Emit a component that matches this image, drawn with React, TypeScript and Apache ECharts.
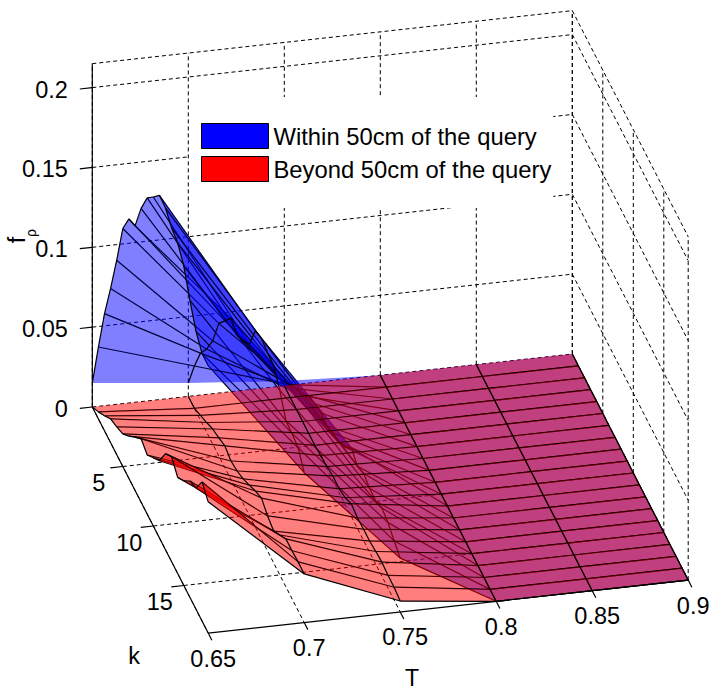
import React, { useEffect, useRef } from "react";
import * as echarts from "echarts";

const tTicks = [0.65, 0.7, 0.75, 0.8, 0.85, 0.9];
const kRows = [0, 1, 2, 3, 4, 5, 6, 7, 8, 9, 10, 11, 12, 13, 14, 15, 16, 17, 18, 19];
const kTicks = [5, 10, 15];
const fTicks = [0, 0.05, 0.1, 0.15, 0.2];
const fTop = 0.215;
const kMax = 19;

const blue065 = [0.015, 0.045, 0.0734, 0.0966, 0.1217, 0.149, 0.1625, 0.1656, 0.184, 0.198, 0.206, 0.2145, 0.214, 0.209, 0.207, 0.2, 0.186, 0.174, 0.1675, 0.1675];
const blue070 = [0.0084, 0.0265, 0.042, 0.052, 0.0646, 0.083, 0.092, 0.101, 0.098, 0.102, 0.107, 0.123, 0.1257, 0.124, 0.1236, 0.1155, 0.104, 0.1035, 0.102, 0.0938];
const blue075 = [0.003, 0.008, 0.013, 0.016, 0.0235, 0.026, 0.0277, 0.027, 0.03, 0.0314, 0.036, 0.043, 0.039, 0.042, 0.04, 0.0395, 0.0427, 0.041, 0.037, 0.0337];
const blue080 = [0, 0, 0, 0, 0, 0, 0, 0, 0, 0, 0, 0, 0, 0, 0, 0, 0, 0, 0, 0];
const blue085 = [0, 0, 0, 0, 0, 0, 0, 0, 0, 0, 0, 0, 0, 0, 0, 0, 0, 0, 0, 0];
const blue090 = [0, 0, 0, 0, 0, 0, 0, 0, 0, 0, 0, 0, 0, 0, 0, 0, 0, 0, 0, 0];

const red065 = [0, 0.0044, 0.0094, 0.0149, 0.0173, 0.0204, 0.0265, 0.0333, 0.0397, 0.037, 0.0427, 0.0483, 0.0602, 0.0657, 0.0602, 0.0656, 0.0729, 0.0759, 0.0872, 0.0822];
const red070 = [0, 0, 0.003, 0.006, 0.0094, 0.0113, 0.0137, 0.0117, 0.0129, 0.0154, 0.019, 0.0227, 0.0257, 0.022, 0.02, 0.025, 0.03, 0.03, 0.0305, 0.0304];
const red075 = [0, 0, 0, 0, 0, 0, 0.001, 0.0015, 0.003, 0.0025, 0.0044, 0.008, 0.0066, 0.007, 0.007, 0.008, 0.0088, 0.008, 0.008, 0.0068];
const red080 = [0, 0, 0, 0, 0, 0, 0, 0, 0, 0, 0, 0, 0, 0, 0, 0, 0, 0, 0, 0];
const red085 = [0, 0, 0, 0, 0, 0, 0, 0, 0, 0, 0, 0, 0, 0, 0, 0, 0, 0, 0, 0];
const red090 = [0, 0, 0, 0, 0, 0, 0, 0, 0, 0, 0, 0, 0, 0, 0, 0, 0, 0, 0, 0];

const blueColumns = [blue065, blue070, blue075, blue080, blue085, blue090];
const redColumns = [red065, red070, red075, red080, red085, red090];

const nameBlue = "Within 50cm of the query";
const nameRed = "Beyond 50cm of the query";
const FONT = '"Liberation Sans", Arial, sans-serif';

// Orthographic view of the (T, k, f) box onto the hidden pixel-scale axes.
function project(T: number, k: number, f: number): [number, number] {
  const t = (T - 0.65) / 0.05;
  return [92.3 + 96 * t + 6.1 * k, 407 - 10.6 * t + 11.9 * k - 1597 * f];
}

const cellData = () => {
  const out: number[][] = [];
  for (let t = 0; t < tTicks.length - 1; t++) {
    for (let k = 0; k < kRows.length - 1; k++) out.push([t, k]);
  }
  return out;
};

const surfaceItem = (cols: number[][], fill: string) => (params: any, api: any) => {
  const t = api.value(0);
  const k = api.value(1);
  const at = (a: number, b: number) => api.coord(project(tTicks[a], kRows[b], cols[a][b]));
  const lineStyle = { stroke: "#000", lineWidth: 1.2, fill: null };
  const edge = (p: number[], q: number[]) => ({
    type: "line",
    shape: { x1: p[0], y1: p[1], x2: q[0], y2: q[1] },
    style: lineStyle,
  });
  const children: any[] = [
    {
      type: "polygon",
      shape: { points: [at(t, k), at(t + 1, k), at(t + 1, k + 1), at(t, k + 1)] },
      style: { fill, stroke: null },
    },
    edge(at(t, k), at(t, k + 1)),
    edge(at(t, k + 1), at(t + 1, k + 1)),
  ];
  if (t === tTicks.length - 2) children.push(edge(at(t + 1, k), at(t + 1, k + 1)));
  return { type: "group", children };
};

const segmentItem = (dash: number[] | null, width: number) => (params: any, api: any) => {
  const a = api.coord(project(api.value(0), api.value(1), api.value(2)));
  const b = api.coord(project(api.value(3), api.value(4), api.value(5)));
  return {
    type: "line",
    shape: { x1: a[0], y1: a[1], x2: b[0], y2: b[1] },
    style: { stroke: "#000", lineWidth: width, lineDash: dash || undefined, fill: null },
  };
};

const T0 = tTicks[0];
const T1 = tTicks[tTicks.length - 1];

const gridSegments: number[][] = [];
fTicks.forEach((f) => {
  gridSegments.push([T0, 0, f, T1, 0, f]);
  gridSegments.push([T1, 0, f, T1, kMax, f]);
});
tTicks.forEach((T) => {
  gridSegments.push([T, 0, 0, T, 0, fTop]);
  gridSegments.push([T, 0, 0, T, kMax, 0]);
});
kTicks.forEach((k) => {
  gridSegments.push([T0, k, 0, T1, k, 0]);
  gridSegments.push([T1, k, 0, T1, k, fTop]);
});
gridSegments.push([T0, 0, fTop, T1, 0, fTop]);
gridSegments.push([T1, 0, fTop, T1, kMax, fTop]);
gridSegments.push([T1, 0, 0, T1, 0, fTop]);
gridSegments.push([T1, kMax, 0, T1, kMax, fTop]);

const axisSegments: number[][] = [
  [T0, 0, 0, T0, 0, fTop],
  [T0, 0, 0, T0, kMax, 0],
  [T0, kMax, 0, T1, kMax, 0],
];
fTicks.forEach((f) => axisSegments.push([T0 - 0.0065, 0, f, T0, 0, f]));
kTicks.forEach((k) => axisSegments.push([T0 - 0.0065, k, 0, T0, k, 0]));
tTicks.forEach((T) => axisSegments.push([T, kMax, 0, T, kMax + 0.6, 0]));

type Label = { text: string; T: number; k: number; f: number; dx: number; dy: number; align: string };
const tickLabels: Label[] = [
  ...fTicks.map((f) => ({ text: String(f), T: T0, k: 0, f, dx: -24.5, dy: 2, align: "right" })),
  ...kTicks.map((k) => ({ text: String(k), T: T0, k, f: 0, dx: -24, dy: 16.5, align: "center" })),
  ...tTicks.map((T) => ({ text: String(T), T, k: kMax, f: 0, dx: 5, dy: 25.5, align: "center" })),
];

const labelItem = (params: any, api: any) => {
  const l = tickLabels[params.dataIndex];
  const p = api.coord(project(l.T, l.k, l.f));
  return {
    type: "text",
    style: {
      text: l.text,
      x: p[0] + l.dx,
      y: p[1] + l.dy,
      textAlign: l.align,
      textVerticalAlign: "middle",
      fontSize: 23.5,
      fontFamily: FONT,
      fill: "#000",
    },
  };
};

const axisNames = [
  { text: "k", x: 134, y: 656, size: 23.5, rot: 0 },
  { text: "T", x: 412, y: 677.5, size: 23, rot: 0 },
  { text: "f", x: 17, y: 240, size: 23.5, rot: Math.PI / 2 },
  { text: "\u03c1", x: 31, y: 233, size: 14, rot: Math.PI / 2 },
];

const nameItem = (params: any, api: any) => {
  const n = axisNames[params.dataIndex];
  const p = api.coord([n.x, n.y]);
  return {
    type: "text",
    x: p[0],
    y: p[1],
    rotation: n.rot,
    style: {
      text: n.text,
      x: 0,
      y: 0,
      textAlign: "center",
      textVerticalAlign: "middle",
      fontSize: n.size,
      fontFamily: FONT,
      fill: "#000",
    },
  };
};

export default function App() {
  const ref = useRef<HTMLDivElement>(null);
  useEffect(() => {
    document.body.style.margin = "0";
    const chart = echarts.init(ref.current as HTMLDivElement, undefined, { renderer: "svg" });
    const customBase = { type: "custom", coordinateSystem: "cartesian2d", silent: true, clip: false };
    chart.setOption({
      animation: false,
      backgroundColor: "#fff",
      grid: { left: 0, right: 0, top: 0, bottom: 0 },
      xAxis: { type: "value", min: 0, max: 711, show: false },
      yAxis: { type: "value", min: 0, max: 690, inverse: true, show: false },
      legend: {
        orient: "vertical",
        left: 189,
        top: 97,
        padding: [26, 2, 26, 12],
        backgroundColor: "#fff",
        icon: "rect",
        itemWidth: 67,
        itemHeight: 25,
        itemGap: 7,
        selectedMode: false,
        textStyle: { fontSize: 23.8, fontFamily: FONT, color: "#000" },
        data: [
          { name: nameBlue, itemStyle: { color: "#0000ff", borderColor: "#000", borderWidth: 1 } },
          { name: nameRed, itemStyle: { color: "#ff0000", borderColor: "#000", borderWidth: 1 } },
        ],
      },
      series: [
        { ...customBase, name: "grid", z: 1, data: gridSegments, renderItem: segmentItem([4, 3], 1) },
        { ...customBase, name: nameBlue, z: 2, itemStyle: { color: "#0000ff" }, data: cellData(), renderItem: surfaceItem(blueColumns, "rgba(0,0,255,0.5)") },
        { ...customBase, name: nameRed, z: 3, itemStyle: { color: "#ff0000" }, data: cellData(), renderItem: surfaceItem(redColumns, "rgba(255,0,0,0.5)") },
        { ...customBase, name: "axes", z: 4, data: axisSegments, renderItem: segmentItem(null, 1.2) },
        { ...customBase, name: "ticks", z: 5, data: tickLabels.map((l, i) => [i, i]), renderItem: labelItem },
        { ...customBase, name: "names", z: 5, data: axisNames.map((n, i) => [i, i]), renderItem: nameItem },
      ],
    });
    return () => chart.dispose();
  }, []);
  return <div ref={ref} style={{ position: "absolute", left: 0, top: 0, width: 711, height: 690 }} />;
}
